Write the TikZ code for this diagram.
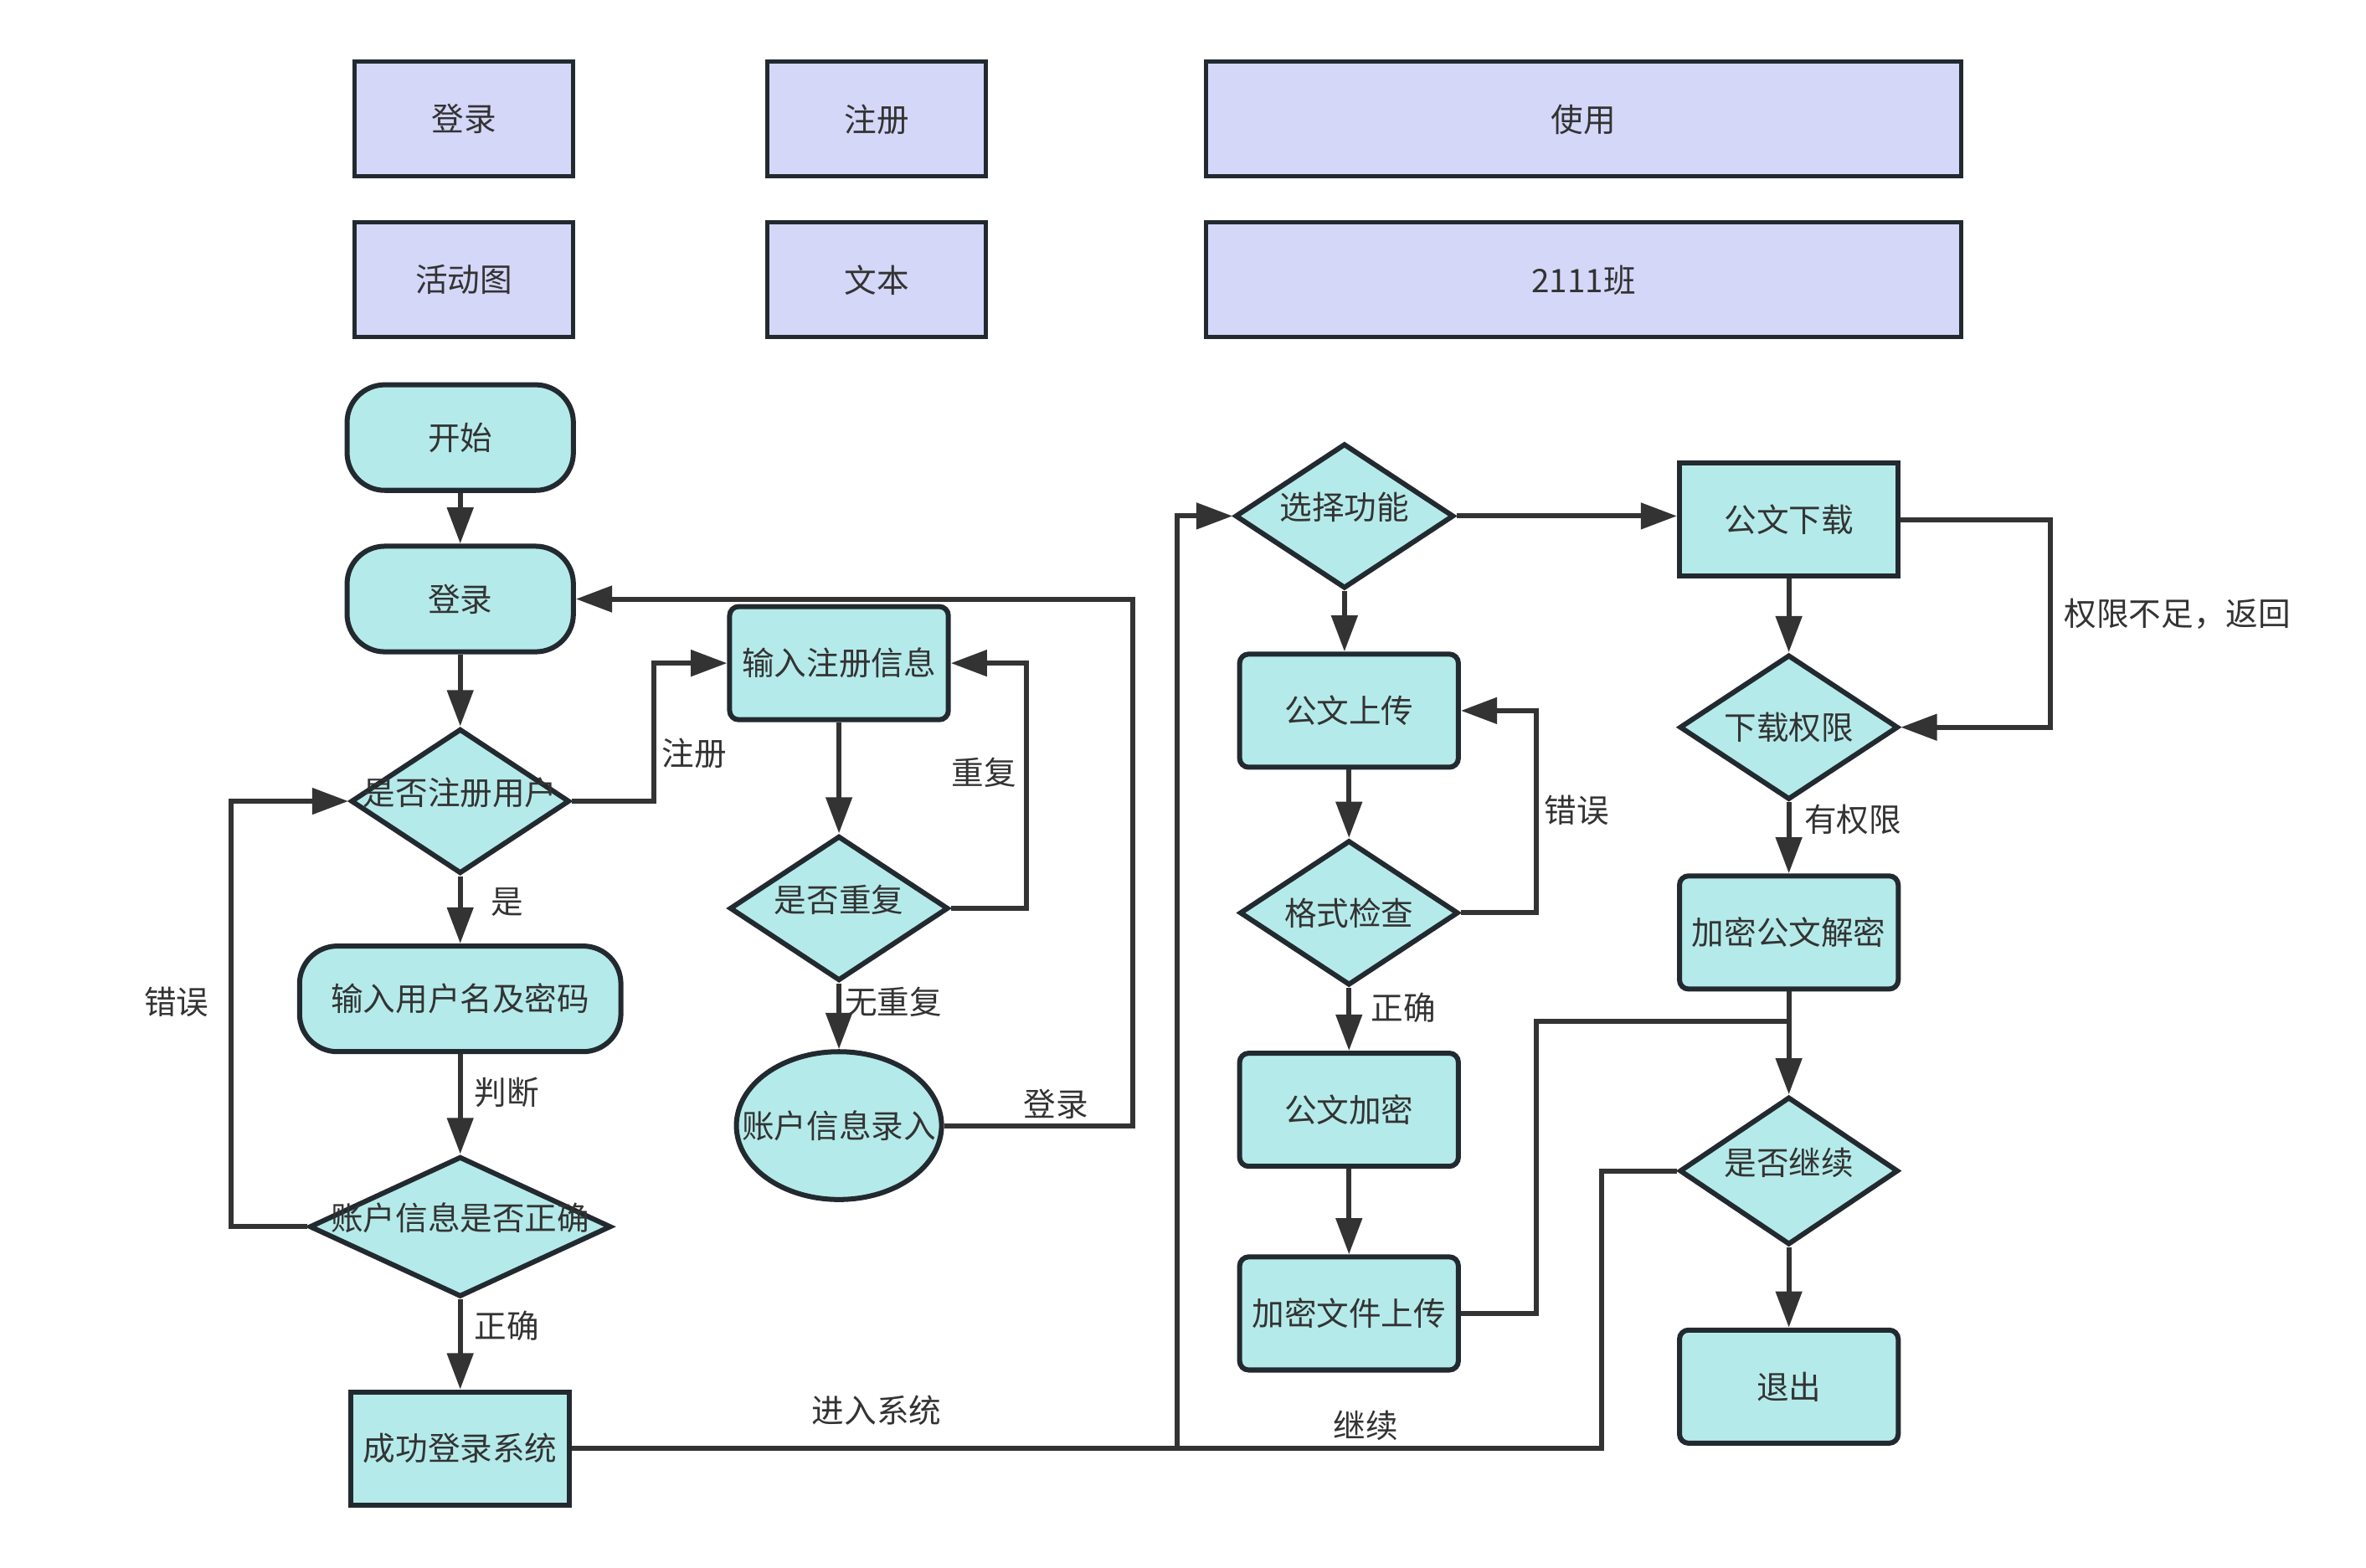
\documentclass[tikz,border=0pt]{standalone}
\usepackage{fontspec}
\setmainfont{Noto Sans CJK SC}
\usetikzlibrary{shapes.geometric,arrows.meta}
\definecolor{nodefill}{HTML}{B5EAEA}
\definecolor{headfill}{HTML}{D4D7F7}
\definecolor{nodeline}{HTML}{222A30}
\definecolor{linkline}{HTML}{333333}
\definecolor{txt}{HTML}{333333}
\tikzset{
  header box/.style={
    rectangle, draw=nodeline, line width=1.6pt, fill=headfill, text=txt,
    inner sep=0pt, minimum width=2.9cm, minimum height=1.52cm
  },
  terminal/.style={
    rectangle, rounded corners=0.5cm, draw=nodeline, line width=1.9pt,
    fill=nodefill, text=txt, inner sep=0pt, minimum width=3cm, minimum height=1.4cm
  },
  process/.style={
    rectangle, rounded corners=0.12cm, draw=nodeline, line width=1.9pt,
    fill=nodefill, text=txt, inner sep=0pt, minimum width=2.9cm, minimum height=1.5cm
  },
  plain box/.style={
    process, sharp corners
  },
  decision/.style={
    diamond, draw=nodeline, line width=1.9pt, fill=nodefill, text=txt,
    inner sep=0pt, minimum width=2.9cm, minimum height=1.92cm,
    text height=0.3cm, text depth=0.2cm
  },
  centred text/.style={
    text height={}, text depth={}
  },
  flow/.style={
    draw=linkline, line width=1.9pt, -{Triangle[length=0.48cm,width=0.34cm]}
  },
  flow plain/.style={
    draw=linkline, line width=1.9pt
  },
  flow label/.style={
    text=txt, inner sep=0pt
  }
}

\begin{document}
\begin{tikzpicture}[x=0.02cm, y=-0.02cm, font=\fontsize{12.2}{14}\selectfont]
\useasboundingbox (0,0) rectangle (1568,1039);

% 顶部：说明框
\node[header box]                        (h1) at (307.5,79)    {登录};
\node[header box]                        (h2) at (581,79)      {注册};
\node[header box, minimum width=10.02cm] (h3) at (1049.5,79)   {使用};
\node[header box]                        (h4) at (307.5,185.5) {活动图};
\node[header box]                        (h5) at (581,185.5)   {文本};
\node[header box, minimum width=10.02cm] (h6) at (1049.5,185.5) {2111班};

% 左列：登录流程
\begin{scope}[shift={(305,0)}]
  \node[terminal] (a1) at (0,290) {开始};
  \node[terminal] (a2) at (0,397) {登录};
  \node[decision] (a3) at (0,531) {\makebox[0pt]{是否注册用户}};
  \node[terminal, minimum width=4.26cm] (a4) at (0,662) {输入用户名及密码};
  \node[decision, minimum width=4cm, minimum height=1.86cm] (a5) at (0,813)
    {\makebox[0pt]{账户信息是否正确}};
  \node[plain box] (a6) at (0,960) {成功登录系统};

  \draw[flow] (a1.south) -- (a2.north);
  \draw[flow] (a2.south) -- (a3.north);
  \draw[flow] (a3.south) -- (a4.north);
  \draw[flow] (a4.south) -- (a5.north);
  \draw[flow] (a5.south) -- (a6.north);
  \draw[flow] (a5.west) -- ++(-50,0) |- (a3.west);
  \node[flow label] at (31,598) {是};
  \node[flow label] at (31,724) {判断};
  \node[flow label] at (31,879) {正确};
  \node[flow label] at (-188,664) {错误};
\end{scope}

% 中列：注册流程
\begin{scope}[shift={(556,0)}]
  \node[process]  (b1) at (0,439.5) {输入注册信息};
  \node[decision] (b2) at (0,602) {\makebox[0pt]{是否重复}};
  \node[ellipse, draw=nodeline, line width=1.9pt, fill=nodefill, text=txt,
        inner sep=0pt, minimum width=2.72cm, minimum height=1.96cm]
        (b3) at (0,746) {\makebox[0pt]{账户信息录入}};

  \draw[flow] (b1.south) -- (b2.north);
  \draw[flow] (b2.east) -- ++(50,0) |- (b1.east);
  \draw[flow] (b2.south) -- (b3.north);
  \node[flow label] at (96,512) {重复};
  \node[flow label] at (36,664) {无重复};
  \node[flow label] at (144,732) {登录};
  \node[flow label] at (-96,499) {注册};
\end{scope}

% 右列：公文上传
\begin{scope}[shift={(894,0)}]
  \node[decision] (c0) at (-3,342) {\makebox[0pt]{选择功能}};
  \node[process]  (c1) at (0,471) {公文上传};
  \node[decision, centred text] (c2) at (0,605) {\makebox[0pt]{格式检查}};
  \node[process]  (c3) at (0,735.5) {公文加密};
  \node[process]  (c4) at (0,870.5) {加密文件上传};

  \draw[flow] (c0.south) -- (c0.south |- c1.north);
  \draw[flow] (c1.south) -- (c2.north);
  \draw[flow] (c2.east) -- ++(50,0) |- (c1.east);
  \draw[flow] (c2.south) -- (c3.north);
  \draw[flow] (c3.south) -- (c4.north);
  \node[flow label] at (151,537) {错误};
  \node[flow label] at (36,668) {正确};
\end{scope}

% 最右列：公文下载
\begin{scope}[shift={(1185.5,0)}]
  \node[plain box] (d1) at (0,344.5) {公文下载};
  \node[decision, centred text] (d2) at (0,482) {\makebox[0pt]{下载权限}};
  \node[process]   (d3) at (0,618) {加密公文解密};
  \node[decision, minimum height=1.96cm] (d4) at (0,776) {\makebox[0pt]{是否继续}};
  \node[process]   (d5) at (0,919) {退出};
  \coordinate (dm) at (0,677);

  \draw[flow] (d1.south) -- (d2.north);
  \draw[flow] (d1.east) -- ++(99,0) |- (d2.east);
  \draw[flow] (d2.south) -- (d3.north);
  \draw[flow] (d3.south) -- (d4.north);
  \draw[flow] (d4.south) -- (d5.north);
  \node[flow label] at (257.5,407) {权限不足，返回};
  \node[flow label] at (42.5,543) {有权限};
\end{scope}

% 跨列连线
\coordinate (cj) at (780,960);
\draw[flow] (b3.east) -- ++(125,0) |- (a2.east);
\draw[flow] (a3.east) -- ++(54,0) |- (b1.west);
\draw[flow] (a6.east) -- (cj) |- (c0.west);
\draw[flow] (c0.east) -- (c0.east -| d1.west);
\draw[flow plain] (c4.east) -- ++(50,0) |- (dm);
\draw[flow plain] (d4.west) -- ++(-50,0) |- (cj);
\node[flow label] at (581,935) {进入系统};
\node[flow label] at (905,945) {继续};

\end{tikzpicture}
\end{document}
